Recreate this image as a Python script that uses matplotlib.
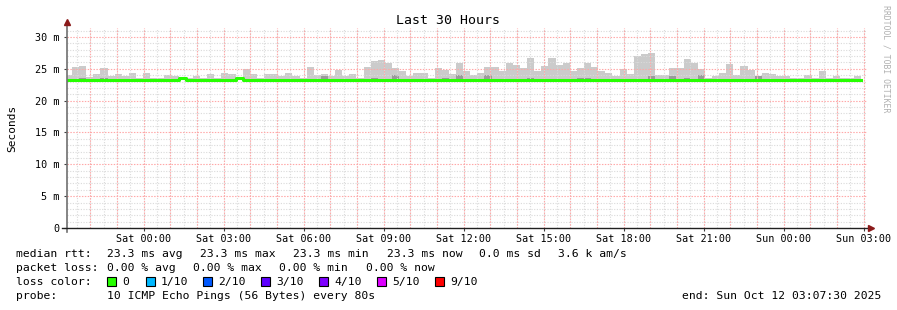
import numpy as np
import matplotlib.pyplot as plt
from matplotlib.patches import Rectangle

plt.rcParams['font.family'] = ['DejaVu Sans Mono']

# smoke top per 16 min bin (ms)
smoke_top = [24.0, 25.3, 25.4, 23.7, 24.2, 25.1, 23.9, 24.2, 23.9, 24.3,
             23.6, 24.3, 23.5, 23.5, 24.0, 23.8, 23.7, 23.5, 23.8, 23.5,
             24.2, 23.5, 24.3, 24.1, 23.5, 24.9, 24.1, 23.5, 24.1,
             24.2, 23.8, 24.4, 23.9, 23.6, 25.3, 24.0, 24.2, 23.8, 24.8,
             23.8, 24.2, 23.6, 25.3, 26.2, 26.4, 25.9, 25.1, 24.7, 23.8,
             24.4, 24.4, 23.6, 25.1, 24.8, 24.2, 25.9, 24.6,
             24.0, 24.4, 25.3, 25.3, 24.7, 25.9, 25.6, 25.1, 26.7, 24.7,
             25.4, 26.7, 25.6, 25.9, 24.7, 25.1, 25.9, 25.3, 24.6, 24.4,
             23.9, 25.0, 24.2, 27.0, 27.3, 27.5, 24.0, 24.0,
             25.1, 25.1, 26.5, 25.9, 25.0, 23.6, 23.8, 24.4, 25.8, 24.0,
             25.4, 24.8, 23.9, 24.4, 24.2, 23.9, 23.8, 23.5, 23.5, 24.0,
             23.5, 24.6, 23.5, 23.8, 23.5, 23.5, 23.8]
dark_bins = [3, 6, 37, 44, 47, 54, 56, 60, 66, 73, 74, 83, 86, 88, 90, 98]
dark_top = [23.6, 23.6, 23.8, 23.6, 24.0, 23.6, 24.0, 24.0, 23.6, 23.6,
            23.6, 23.8, 23.8, 23.6, 24.0, 23.9]
median_rtt = 23.3
bump_bins = [17, 25]
bump_val = [23.55, 23.55]
smoke_base = 23.2

xtick_labels = ['Sat 00:00', 'Sat 03:00', 'Sat 06:00', 'Sat 09:00', 'Sat 12:00',
                'Sat 15:00', 'Sat 18:00', 'Sat 21:00', 'Sun 00:00', 'Sun 03:00']
first_label_h = 2.875   # hours after 21:07:30
first_bin_h = 0.1875
bin_h = 16 / 60

n = len(smoke_top)
starts = np.concatenate([[0.0], first_bin_h + bin_h * np.arange(n - 1)])
ends = np.append(starts[1:], starts[-1] + bin_h)
widths = ends - starts
tops = np.array(smoke_top)

median = np.full(n, median_rtt)
for b, v in zip(bump_bins, bump_val):
    median[b - 1] = v

W, H = 897, 310
fig = plt.figure(figsize=(W / 100, H / 100), dpi=100)
fig.patch.set_facecolor('white')
ax = fig.add_axes([67 / W, 1 - 228 / H, 800 / W, 200 / H])
ax.set_xlim(0, 30)
ax.set_ylim(0, 31.4)

# smoke
ax.bar(starts, tops - smoke_base, width=widths, bottom=smoke_base, align='edge',
       color='#cbcbcb', linewidth=0, zorder=1)
db = np.array(dark_bins) - 1
ax.bar(starts[db], np.array(dark_top) - smoke_base, width=widths[db], bottom=smoke_base,
       align='edge', color='#9a9a9a', linewidth=0, zorder=1.5)

# grid on top of smoke
for t in np.arange(0.375, 30, 0.5):
    ax.axvline(t, color='#dadada', lw=0.8, ls=(0, (1, 1.4)), zorder=2)
for v in range(1, 32):
    if v % 5:
        ax.axhline(v, color='#dadada', lw=0.8, ls=(0, (1, 1.4)), zorder=2)
for t in np.arange(0.875, 30, 1.0):
    ax.axvline(t, color='#ffa8a8', lw=0.8, ls=(0, (1.3, 1.3)), zorder=2.1)
for v in range(5, 31, 5):
    ax.axhline(v, color='#ffa8a8', lw=0.8, ls=(0, (1.3, 1.3)), zorder=2.1)

# median line
ax.plot(np.append(starts, ends[-1]), np.append(median, median[-1]),
        drawstyle='steps-post', color='#26ff00', lw=2.2, zorder=3)

for s in ax.spines.values():
    s.set_visible(False)
ax.plot([0, 0], [-0.02, 1.025], transform=ax.transAxes, color='#707070', lw=1.2,
        clip_on=False, zorder=4)
ax.plot([-0.006, 1.005], [0, 0], transform=ax.transAxes, color='#202020', lw=1,
        clip_on=False, zorder=4)
ax.plot([0], [1.03], transform=ax.transAxes, marker='^', ms=4.5, color='#8b1a1a',
        clip_on=False, zorder=5)
ax.plot([1.005], [0], transform=ax.transAxes, marker='>', ms=4.5, color='#8b1a1a',
        clip_on=False, zorder=5)

xt = first_label_h + 3 * np.arange(len(xtick_labels))
ax.set_xticks(xt)
ax.set_xticklabels(xtick_labels, fontsize=7.3)
yt = list(range(0, 31, 5))
ax.set_yticks(yt)
ax.set_yticklabels(['0'] + [f'{v} m' for v in yt[1:]], fontsize=7.3)
ax.tick_params(axis='both', length=2.5, width=0.8, color='#404040', pad=3)
ax.tick_params(axis='x', pad=1.5)
ax.set_ylabel('Seconds', fontsize=8)
ax.yaxis.set_label_coords(-0.062, 0.5)


def px(x, y):
    return x / W, 1 - y / H


fs = 8.2
fig.text(*px(448, 20), 'Last 30 Hours', ha='center', va='center', fontsize=9.5)
fig.text(*px(886, 5), 'RRDTOOL / TOBI OETIKER', ha='center', va='top',
         rotation=-90, fontsize=5.9, color='#b0b0b0')

rows = [
    (254, [(16, 'median rtt:'), (107, '23.3 ms avg'), (200, '23.3 ms max'),
           (293, '23.3 ms min'), (387, '23.3 ms now'), (479, '0.0 ms sd'),
           (558, '3.6 k am/s')]),
    (268, [(16, 'packet loss:'), (107, '0.00 % avg'), (193, '0.00 % max'),
           (279, '0.00 % min'), (366, '0.00 % now')]),
    (282, [(16, 'loss color:')]),
    (296, [(16, 'probe:'), (107, '10 ICMP Echo Pings (56 Bytes) every 80s')]),
]
for y, items in rows:
    for x, s in items:
        fig.text(*px(x, y), s, ha='left', va='center', fontsize=fs)
fig.text(*px(881, 296), 'end: Sun Oct 12 03:07:30 2025', ha='right', va='center',
         fontsize=fs)

loss_labels = ['0', '1/10', '2/10', '3/10', '4/10', '5/10', '9/10']
loss_colors = ['#26ff00', '#00b8ff', '#0059ff', '#5e00ff', '#7e00ff', '#dd00ff', '#ff0000']
loss_box_x = [107, 146, 203, 261, 319, 377, 435]
for x, lab, c in zip(loss_box_x, loss_labels, loss_colors):
    x0, y0 = px(x, 286)
    fig.patches.append(Rectangle((x0, y0), 9 / W, 9 / H, transform=fig.transFigure,
                                 facecolor=c, edgecolor='black', lw=0.8))
    fig.text(*px(x + 15, 282), lab, ha='left', va='center', fontsize=fs)

fig.savefig('out.png', dpi=100, facecolor='white')
